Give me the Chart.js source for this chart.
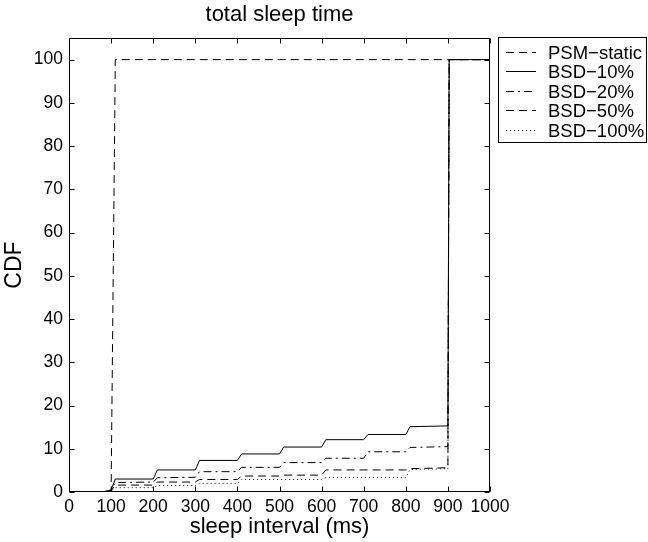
<!DOCTYPE html>
<html>
<head>
<meta charset="utf-8">
<script src="https://cdn.jsdelivr.net/npm/chart.js@4.4.1/dist/chart.umd.min.js"></script>
<style>
html, body { margin: 0; padding: 0; background: #fff; }
#wrap { width: 648px; height: 542px; }
</style>
</head>
<body>
<div id="wrap"><canvas id="cdfChart" width="648" height="542"></canvas></div>
<script>
// sleep interval breakpoints (ms), shared by every curve
const sleepMs = [0, 80, 100, 110, 200, 210, 300, 310, 400, 410, 500, 510, 600, 610, 700, 710, 800, 810, 900, 903, 1000];

// CDF values (%)
const psmStatic = [0, 0, 0, 100, 100, 100, 100, 100, 100, 100, 100, 100, 100, 100, 100, 100, 100, 100, 100, 100, 100];
const bsd10  = [0, 0, 0.5, 3.0, 3.0, 5.1, 5.1, 7.3, 7.3, 8.8, 8.8, 10.4, 10.4, 12.1, 12.1, 13.3, 13.3, 15.1, 15.3, 100, 100];
const bsd20  = [0, 0, 0.4, 2.2, 2.3, 3.3, 3.4, 4.7, 4.7, 5.7, 5.7, 6.8, 6.8, 7.8, 7.8, 9.3, 9.3, 10.3, 10.5, 100, 100];
const bsd50  = [0, 0, 0.3, 1.6, 1.6, 2.3, 2.3, 2.9, 2.9, 3.7, 3.7, 3.9, 3.9, 5.1, 5.1, 5.1, 5.1, 5.4, 5.6, 100, 100];
const bsd100 = [0, 0, 0.2, 1.0, 1.0, 1.5, 1.5, 2.0, 2.0, 2.9, 2.9, 2.9, 2.9, 3.3, 3.3, 3.3, 3.3, 5.2, 5.4, 100, 100];

const seriesNames = ['PSM\u2212static', 'BSD\u221210%', 'BSD\u221220%', 'BSD\u221250%', 'BSD\u2212100%'];
const seriesDash = [[8, 5], [], [8, 4, 2, 4], [8, 5], [1, 3]];

// tick labels
const xTicks = [0, 100, 200, 300, 400, 500, 600, 700, 800, 900, 1000];
const yTicks = [0, 10, 20, 30, 40, 50, 60, 70, 80, 90, 100];

const FONT = "'Liberation Sans', Arial, Helvetica, sans-serif";

function toPoints(values) {
    return sleepMs.map(function (ms, i) { return { x: ms, y: values[i] }; });
}

const allSeries = [psmStatic, bsd10, bsd20, bsd50, bsd100];
const datasets = allSeries.map(function (vals, i) {
    return {
        label: seriesNames[i],
        data: toPoints(vals),
        borderColor: '#000',
        borderWidth: 1,
        borderDash: seriesDash[i],
        pointRadius: 0,
        tension: 0,
        fill: false
    };
});

// axes box with inward tick marks (matlab style)
const boxTicks = {
    id: 'boxTicks',
    afterDraw(chart) {
        const ctx = chart.ctx;
        const a = chart.chartArea;
        const xs = chart.scales.x, ys = chart.scales.y;
        const len = 5;
        const l = Math.round(a.left) + 0.5, r = Math.round(a.right) - 0.5;
        const t = Math.round(a.top) + 0.5, b = Math.round(a.bottom) - 0.5;
        ctx.save();
        ctx.strokeStyle = '#000';
        ctx.lineWidth = 1;
        ctx.setLineDash([]);
        ctx.strokeRect(l, t, r - l, b - t);
        ctx.beginPath();
        xTicks.forEach(function (v) {
            const px = Math.round(xs.getPixelForValue(v)) + 0.5;
            ctx.moveTo(px, b); ctx.lineTo(px, b - len);
            ctx.moveTo(px, t); ctx.lineTo(px, t + len);
        });
        yTicks.forEach(function (v) {
            const py = Math.round(ys.getPixelForValue(v)) + 0.5;
            ctx.moveTo(l, py); ctx.lineTo(l + len, py);
            ctx.moveTo(r, py); ctx.lineTo(r - len, py);
        });
        ctx.stroke();
        ctx.restore();
    }
};

// legend box outside the plot, right side
const sideLegend = {
    id: 'sideLegend',
    afterDraw(chart) {
        const ctx = chart.ctx;
        const bx = 498.5, by = 37.5, bw = 148, bh = 105;
        ctx.save();
        ctx.fillStyle = '#fff';
        ctx.fillRect(bx, by, bw, bh);
        ctx.strokeStyle = '#000';
        ctx.lineWidth = 1;
        ctx.setLineDash([]);
        ctx.strokeRect(bx, by, bw, bh);
        ctx.font = '18.5px ' + FONT;
        ctx.fillStyle = '#000';
        ctx.textBaseline = 'middle';
        chart.data.datasets.forEach(function (ds, i) {
            const y = Math.round(52 + i * 19.4) + 0.5;
            ctx.beginPath();
            ctx.setLineDash(ds.borderDash);
            ctx.moveTo(506, y);
            ctx.lineTo(536, y);
            ctx.stroke();
            ctx.setLineDash([]);
            ctx.fillText(ds.label, 548, y + 1);
        });
        ctx.restore();
    }
};

const config = {
    type: 'line',
    data: { datasets: datasets },
    options: {
        responsive: false,
        animation: false,
        devicePixelRatio: 1,
        layout: { padding: { top: 0, left: 0, right: 158, bottom: 0 } },
        plugins: {
            legend: { display: false },
            tooltip: { enabled: false },
            title: {
                display: true,
                text: 'total sleep time',
                fullSize: false,
                color: '#000',
                font: { family: FONT, size: 22, weight: 'normal' },
                padding: { top: 2, bottom: 9.6 }
            }
        },
        scales: {
            x: {
                type: 'linear',
                min: 0,
                max: 1000,
                grid: { display: false, drawTicks: false },
                border: { display: false },
                afterBuildTicks: function (scale) {
                    scale.ticks = xTicks.map(function (v) { return { value: v }; });
                },
                afterFit: function (scale) { scale.height = 50; },
                ticks: {
                    color: '#000',
                    padding: 5,
                    maxRotation: 0,
                    autoSkip: false,
                    font: { family: FONT, size: 17.5 },
                    callback: function (v) { return String(v); }
                },
                title: {
                    display: true,
                    text: 'sleep interval (ms)',
                    color: '#000',
                    font: { family: FONT, size: 22 },
                    padding: { top: 0, bottom: 2 }
                }
            },
            y: {
                min: 0,
                max: 105,
                grid: { display: false, drawTicks: false },
                border: { display: false },
                afterBuildTicks: function (scale) {
                    scale.ticks = yTicks.map(function (v) { return { value: v }; });
                },
                afterFit: function (scale) { scale.width = 69; },
                ticks: {
                    color: '#000',
                    padding: 6,
                    autoSkip: false,
                    font: { family: FONT, size: 17.5 },
                    callback: function (v) { return String(v); }
                },
                title: {
                    display: true,
                    text: 'CDF',
                    color: '#000',
                    font: { family: FONT, size: 23 },
                    padding: { top: 1, bottom: 0 }
                }
            }
        }
    },
    plugins: [boxTicks, sideLegend]
};

const cdfChart = new Chart(document.getElementById('cdfChart'), config);
</script>
</body>
</html>
